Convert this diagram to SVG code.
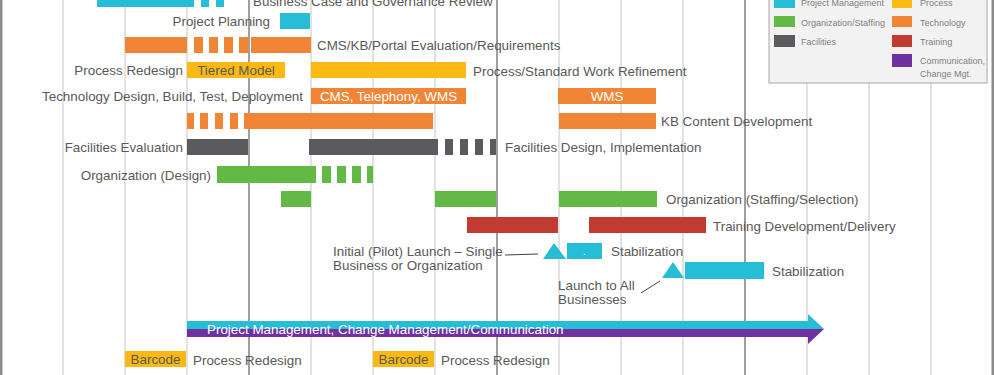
<svg xmlns="http://www.w3.org/2000/svg" width="994" height="375" viewBox="0 0 994 375">
<style>
text{font-family:"Liberation Sans",Arial,sans-serif;font-size:13.4px;fill:#595959}
.lg{font-size:9px;fill:#7f7f7f}
.w{fill:#fff}
.m{text-anchor:middle}
.e{text-anchor:end}
.gl{stroke:#d9d9d9;stroke-width:1.5}
.gd{stroke:#7f7f7f;stroke-width:1.5}
.cy{fill:#26bdd7}.or{fill:#f08536}.ye{fill:#fdb913}.gr{fill:#62b946}.dg{fill:#5a5b5f}.rd{fill:#c33a32}.pu{fill:#7030a0}
.ld{stroke:#404040;stroke-width:1;fill:none}
</style>
<rect width="994" height="375" fill="#fff"/>
<g id="grid">
<line class="gl" x1="63" y1="0" x2="63" y2="375"/>
<line class="gl" x1="125" y1="0" x2="125" y2="375"/>
<line class="gl" x1="187" y1="0" x2="187" y2="375"/>
<line class="gd" x1="249" y1="0" x2="249" y2="375"/>
<line class="gl" x1="311" y1="0" x2="311" y2="375"/>
<line class="gl" x1="373" y1="0" x2="373" y2="375"/>
<line class="gl" x1="435" y1="0" x2="435" y2="375"/>
<line class="gd" x1="497" y1="0" x2="497" y2="375"/>
<line class="gl" x1="559" y1="0" x2="559" y2="375"/>
<line class="gl" x1="621" y1="0" x2="621" y2="375"/>
<line class="gl" x1="683" y1="0" x2="683" y2="375"/>
<line class="gd" x1="745" y1="0" x2="745" y2="375"/>
<line class="gl" x1="807" y1="0" x2="807" y2="375"/>
<line class="gl" x1="869" y1="0" x2="869" y2="375"/>
<line class="gl" x1="931" y1="0" x2="931" y2="375"/>
<line stroke="#8c8c8c" stroke-width="3" x1="1" y1="0" x2="1" y2="375"/>
<line stroke="#8c8c8c" stroke-width="3" x1="993" y1="0" x2="993" y2="375"/>
</g>
<g id="business-case">
<rect class="cy" x="97" y="-9" width="97" height="16"/>
<rect class="cy" x="201" y="-9" width="8" height="16"/>
<rect class="cy" x="216" y="-9" width="8" height="16"/>
<text x="253" y="5.5">Business Case and Governance Review</text>
</g>
<g id="project-planning">
<text class="e" x="270" y="25.7">Project Planning</text>
<rect class="cy" x="280" y="13" width="30" height="16"/>
</g>
<g id="cms-evaluation">
<rect class="or" x="125" y="37" width="62" height="16"/>
<rect class="or" x="194" y="37" width="9" height="16"/>
<rect class="or" x="209" y="37" width="9" height="16"/>
<rect class="or" x="224" y="37" width="9" height="16"/>
<rect class="or" x="239" y="37" width="9" height="16"/>
<rect class="or" x="251" y="37" width="60" height="16"/>
<text x="317" y="49.7">CMS/KB/Portal Evaluation/Requirements</text>
</g>
<g id="process-redesign">
<text class="e" x="183" y="75">Process Redesign</text>
<rect class="ye" x="187" y="62" width="98" height="16"/>
<text class="m" x="236" y="75">Tiered Model</text>
<rect class="ye" x="311" y="62" width="155" height="16"/>
<text x="473" y="75.5">Process/Standard Work Refinement</text>
</g>
<g id="technology">
<text class="e" x="303" y="100.5">Technology Design, Build, Test, Deployment</text>
<rect class="or" x="311" y="88" width="155" height="16"/>
<text class="m w" x="388.5" y="100.5">CMS, Telephony,  WMS</text>
<rect class="or" x="558" y="88" width="98" height="16"/>
<text class="m w" x="607" y="100.5">WMS</text>
</g>
<g id="kb-content">
<rect class="or" x="187" y="113" width="7" height="16"/>
<rect class="or" x="200" y="113" width="8" height="16"/>
<rect class="or" x="215" y="113" width="8" height="16"/>
<rect class="or" x="230" y="113" width="8" height="16"/>
<rect class="or" x="244" y="113" width="189" height="16"/>
<rect class="or" x="559" y="113" width="97" height="16"/>
<text x="661" y="125.5">KB Content Development</text>
</g>
<g id="facilities">
<text class="e" x="183" y="151.5">Facilities Evaluation</text>
<rect class="dg" x="187" y="139" width="61" height="16"/>
<rect class="dg" x="309" y="139" width="129" height="16"/>
<rect class="dg" x="445" y="139" width="8" height="16"/>
<rect class="dg" x="460" y="139" width="8" height="16"/>
<rect class="dg" x="475" y="139" width="8" height="16"/>
<rect class="dg" x="490" y="139" width="6" height="16"/>
<text x="505" y="151.5">Facilities Design, Implementation</text>
</g>
<g id="org-design">
<text class="e" x="211" y="179.5">Organization (Design)</text>
<rect class="gr" x="217" y="166" width="99" height="17"/>
<rect class="gr" x="322" y="166" width="9" height="17"/>
<rect class="gr" x="337" y="166" width="9" height="17"/>
<rect class="gr" x="352" y="166" width="9" height="17"/>
<rect class="gr" x="367" y="166" width="6" height="17"/>
</g>
<g id="org-staffing">
<rect class="gr" x="281" y="191" width="30" height="16"/>
<rect class="gr" x="435" y="191" width="61" height="16"/>
<rect class="gr" x="559" y="191" width="98" height="16"/>
<text x="666" y="203.5">Organization (Staffing/Selection)</text>
</g>
<g id="training">
<rect class="rd" x="467" y="217" width="91" height="16"/>
<rect class="rd" x="589" y="217" width="117" height="16"/>
<text x="713" y="230.5">Training Development/Delivery</text>
</g>
<g id="pilot-launch">
<text x="333" y="255.5">Initial (Pilot) Launch – Single</text>
<text x="333" y="269.5">Business or Organization</text>
<polygon class="cy" points="554,243 566,259 543,259"/>
</g>
<g id="stabilization-1">
<rect class="cy" x="567" y="243" width="35" height="16"/>
<text class="m w" x="584.5" y="255" style="font-size:10px">.</text>
<text x="611" y="255.5">Stabilization</text>
</g>
<g id="launch-all">
<text x="558" y="289.5">Launch to All</text>
<text x="558" y="303.5">Businesses</text>
<polygon class="cy" points="673,262 684,278 662,278"/>
</g>
<g id="stabilization-2">
<rect class="cy" x="685" y="262" width="79" height="17"/>
<text x="772" y="275.5">Stabilization</text>
</g>
<g id="pm-arrow">
<rect class="cy" x="187" y="321" width="622" height="8"/>
<rect class="pu" x="187" y="329" width="622" height="8"/>
<polygon class="cy" points="808,314 824,329 808,329"/>
<polygon class="pu" points="808,329 824,329 808,344"/>
<text class="w" x="207" y="333.5">Project Management, Change Management/Communication</text>
</g>
<g id="barcode-1">
<rect class="ye" x="125" y="351" width="61" height="16"/>
<text class="m" x="155.5" y="364">Barcode</text>
<text x="193" y="364.5">Process Redesign</text>
</g>
<g id="barcode-2">
<rect class="ye" x="373" y="351" width="61" height="16"/>
<text class="m" x="403.5" y="364">Barcode</text>
<text x="441" y="364.5">Process Redesign</text>
</g>
<g id="connectors">
<line class="ld" x1="505" y1="255" x2="538" y2="254"/>
<line class="ld" x1="641" y1="293" x2="660" y2="281"/>
</g>
<g id="legend">
<rect x="769" y="-10" width="218" height="93" fill="#f2f2f2" stroke="#a6a6a6" stroke-width="1"/>
<rect class="cy" x="774" y="-4" width="21" height="12"/>
<text class="lg" x="801" y="6">Project Management</text>
<rect class="gr" x="774" y="16" width="21" height="11"/>
<text class="lg" x="801" y="25.5">Organization/Staffing</text>
<rect class="dg" x="774" y="35" width="21" height="12"/>
<text class="lg" x="801" y="45">Facilities</text>
<rect class="ye" x="892" y="-4" width="20" height="12"/>
<text class="lg" x="920" y="6">Process</text>
<rect class="or" x="892" y="16" width="20" height="11"/>
<text class="lg" x="920" y="25.5">Technology</text>
<rect class="rd" x="892" y="35" width="20" height="12"/>
<text class="lg" x="920" y="45">Training</text>
<rect class="pu" x="892" y="54" width="20" height="13"/>
<text class="lg" x="920" y="64">Communication,</text>
<text class="lg" x="920" y="76.5">Change Mgt.</text>
</g>
</svg>
